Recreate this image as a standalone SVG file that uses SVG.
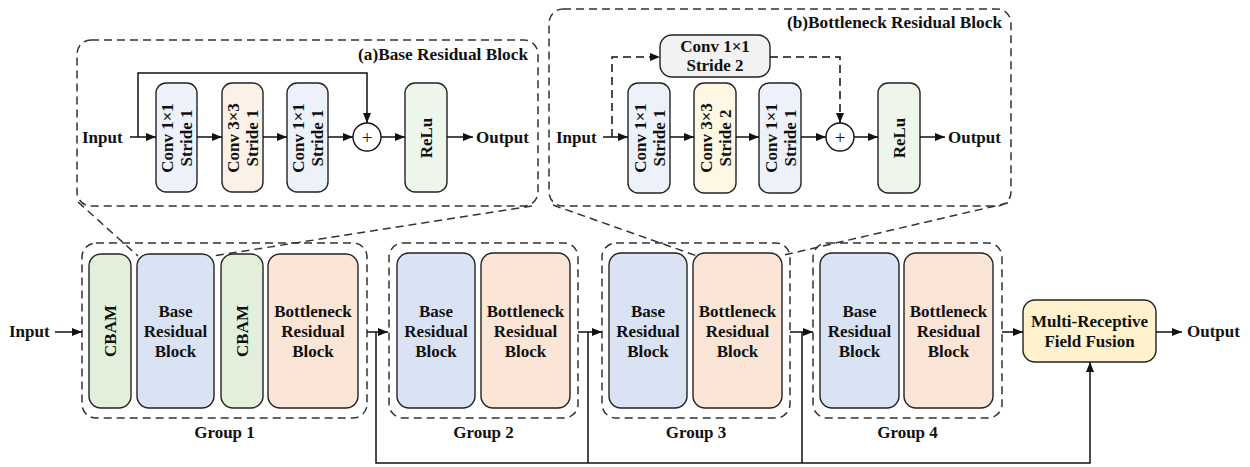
<svg xmlns="http://www.w3.org/2000/svg" width="1250" height="467" viewBox="0 0 1250 467">
<style>
text{font-family:"Liberation Serif","Times New Roman",serif;font-weight:bold;font-size:17px;fill:#111}
.c{text-anchor:middle;dominant-baseline:central}
.t{font-size:17.3px;text-anchor:end}
.box{stroke:#222;stroke-width:1.4}
.dash{fill:none;stroke:#333;stroke-width:1.5;stroke-dasharray:8 5}
.ln{fill:none;stroke:#111;stroke-width:1.5}
.plus{font-size:19px;font-weight:normal}
.blue{fill:#dae3f3}.peach{fill:#fbe5d6}.green{fill:#e2efda}.yel{fill:#fff2cc}
.lblue{fill:#edf1fa}.lpeach{fill:#fcf1e7}.lyel{fill:#fdf7e4}.lgreen{fill:#eef5ea}.gray{fill:#f2f2f2}
</style>
<defs>
<marker id="ar" markerUnits="userSpaceOnUse" markerWidth="11" markerHeight="9" refX="10" refY="4" orient="auto">
<path d="M0,0 L10,4 L0,8 z" fill="#111"/>
</marker>
</defs>

<!-- (a) Base Residual Block detail -->
<g id="detail-a">
<rect class="dash" x="77" y="40" width="461" height="166" rx="14"/>
<text class="t" x="528" y="60">(a)Base Residual Block</text>
<text x="82" y="143">Input</text>
<text x="476" y="143">Output</text>
</g>
<g id="a-conv1">
<rect class="box lblue" x="156" y="83" width="41" height="109" rx="10"/>
<text class="c" transform="translate(176.5,138) rotate(-90)"><tspan x="0" y="-9.5">Conv 1×1</tspan><tspan x="0" y="9.5">Stride 1</tspan></text>
</g>
<g id="a-conv2">
<rect class="box lpeach" x="222" y="83" width="41" height="109" rx="10"/>
<text class="c" transform="translate(242.5,138) rotate(-90)"><tspan x="0" y="-9.5">Conv 3×3</tspan><tspan x="0" y="9.5">Stride 1</tspan></text>
</g>
<g id="a-conv3">
<rect class="box lblue" x="287" y="83" width="41" height="109" rx="10"/>
<text class="c" transform="translate(307.5,138) rotate(-90)"><tspan x="0" y="-9.5">Conv 1×1</tspan><tspan x="0" y="9.5">Stride 1</tspan></text>
</g>
<g id="a-add">
<circle cx="367" cy="137" r="14" fill="#fff" stroke="#111" stroke-width="1.4"/>
<text class="c plus" x="367" y="137">+</text>
</g>
<g id="a-relu">
<rect class="box lgreen" x="405" y="83" width="42" height="109" rx="10"/>
<text class="c" transform="translate(426,138) rotate(-90)">ReLu</text>
</g>

<!-- (b) Bottleneck Residual Block detail -->
<g id="detail-b">
<rect class="dash" x="549" y="9" width="462" height="197" rx="14"/>
<text class="t" x="1002" y="28">(b)Bottleneck Residual Block</text>
<text x="556" y="143">Input</text>
<text x="948" y="143">Output</text>
</g>
<g id="b-short">
<rect class="box gray" x="660" y="35" width="110" height="42" rx="12"/>
<text class="c" x="715" y="46.5">Conv 1×1</text>
<text class="c" x="715" y="65.5">Stride 2</text>
</g>
<g id="b-conv1">
<rect class="box lblue" x="628" y="83" width="42" height="110" rx="10"/>
<text class="c" transform="translate(649,138) rotate(-90)"><tspan x="0" y="-9.5">Conv 1×1</tspan><tspan x="0" y="9.5">Stride 1</tspan></text>
</g>
<g id="b-conv2">
<rect class="box lyel" x="694" y="83" width="42" height="110" rx="10"/>
<text class="c" transform="translate(715,138) rotate(-90)"><tspan x="0" y="-9.5">Conv 3×3</tspan><tspan x="0" y="9.5">Stride 2</tspan></text>
</g>
<g id="b-conv3">
<rect class="box lblue" x="759" y="83" width="42" height="110" rx="10"/>
<text class="c" transform="translate(780,138) rotate(-90)"><tspan x="0" y="-9.5">Conv 1×1</tspan><tspan x="0" y="9.5">Stride 1</tspan></text>
</g>
<g id="b-add">
<circle cx="840" cy="137" r="14" fill="#fff" stroke="#111" stroke-width="1.4"/>
<text class="c plus" x="840" y="137">+</text>
</g>
<g id="b-relu">
<rect class="box lgreen" x="878" y="83" width="42" height="110" rx="10"/>
<text class="c" transform="translate(899,138) rotate(-90)">ReLu</text>
</g>

<!-- main pipeline -->
<g id="input">
<text x="9" y="337">Input</text>
</g>
<g id="group1">
<rect class="dash" x="82" y="243" width="285" height="175" rx="14"/>
<rect class="box green" x="89" y="254" width="42" height="154" rx="12"/>
<text class="c" transform="translate(110,331) rotate(-90)">CBAM</text>
<rect class="box blue" x="137" y="254" width="77" height="154" rx="12"/>
<text class="c" x="175.5" y="311">Base</text>
<text class="c" x="175.5" y="331">Residual</text>
<text class="c" x="175.5" y="351">Block</text>
<rect class="box green" x="221" y="254" width="42" height="154" rx="12"/>
<text class="c" transform="translate(242,331) rotate(-90)">CBAM</text>
<rect class="box peach" x="268" y="254" width="90" height="154" rx="12"/>
<text class="c" x="313" y="311">Bottleneck</text>
<text class="c" x="313" y="331">Residual</text>
<text class="c" x="313" y="351">Block</text>
<text x="224.5" y="438" text-anchor="middle">Group 1</text>
</g>
<g id="group2">
<rect class="dash" x="389" y="243" width="189" height="175" rx="14"/>
<rect class="box blue" x="397" y="253" width="78" height="155" rx="12"/>
<text class="c" x="436" y="311">Base</text>
<text class="c" x="436" y="331">Residual</text>
<text class="c" x="436" y="351">Block</text>
<rect class="box peach" x="481" y="253" width="89" height="155" rx="12"/>
<text class="c" x="525.5" y="311">Bottleneck</text>
<text class="c" x="525.5" y="331">Residual</text>
<text class="c" x="525.5" y="351">Block</text>
<text x="483.5" y="438" text-anchor="middle">Group 2</text>
</g>
<g id="group3">
<rect class="dash" x="602" y="243" width="188" height="175" rx="14"/>
<rect class="box blue" x="609" y="253" width="78" height="155" rx="12"/>
<text class="c" x="648" y="311">Base</text>
<text class="c" x="648" y="331">Residual</text>
<text class="c" x="648" y="351">Block</text>
<rect class="box peach" x="693" y="253" width="89" height="155" rx="12"/>
<text class="c" x="737.5" y="311">Bottleneck</text>
<text class="c" x="737.5" y="331">Residual</text>
<text class="c" x="737.5" y="351">Block</text>
<text x="696" y="438" text-anchor="middle">Group 3</text>
</g>
<g id="group4">
<rect class="dash" x="813" y="243" width="189" height="175" rx="14"/>
<rect class="box blue" x="820" y="253" width="79" height="155" rx="12"/>
<text class="c" x="859.5" y="311">Base</text>
<text class="c" x="859.5" y="331">Residual</text>
<text class="c" x="859.5" y="351">Block</text>
<rect class="box peach" x="904" y="253" width="89" height="155" rx="12"/>
<text class="c" x="948.5" y="311">Bottleneck</text>
<text class="c" x="948.5" y="331">Residual</text>
<text class="c" x="948.5" y="351">Block</text>
<text x="907.5" y="438" text-anchor="middle">Group 4</text>
</g>
<g id="mrff">
<rect class="box yel" x="1023" y="300" width="133" height="62" rx="12"/>
<text class="c" x="1089.5" y="321.5">Multi-Receptive</text>
<text class="c" x="1089.5" y="341.5">Field Fusion</text>
</g>
<g id="output">
<text x="1187" y="337">Output</text>
</g>

<g id="connectors">
<!-- (a) -->
<path class="ln" d="M130,137 H156" marker-end="url(#ar)"/>
<path class="ln" d="M197,137 H222" marker-end="url(#ar)"/>
<path class="ln" d="M263,137 H287" marker-end="url(#ar)"/>
<path class="ln" d="M328,137 H353" marker-end="url(#ar)"/>
<path class="ln" d="M381,137 H405" marker-end="url(#ar)"/>
<path class="ln" d="M447,137 H473" marker-end="url(#ar)"/>
<path class="ln" d="M138,137 V73 H367 V123" marker-end="url(#ar)"/>
<!-- (b) -->
<path class="ln" d="M603,137 H628" marker-end="url(#ar)"/>
<path class="ln" d="M670,137 H694" marker-end="url(#ar)"/>
<path class="ln" d="M736,137 H759" marker-end="url(#ar)"/>
<path class="ln" d="M801,137 H826" marker-end="url(#ar)"/>
<path class="ln" d="M854,137 H878" marker-end="url(#ar)"/>
<path class="ln" d="M920,137 H945" marker-end="url(#ar)"/>
<path class="ln" d="M612,137 V57 H660" stroke-dasharray="8 5" marker-end="url(#ar)"/>
<path class="ln" d="M770,57 H840 V123" stroke-dasharray="8 5" marker-end="url(#ar)"/>
<!-- zoom lines -->
<path class="dash" d="M78,202 L138,256"/>
<path class="dash" d="M532,206 L212,256"/>
<path class="dash" d="M553,205 L697,256"/>
<path class="dash" d="M1008,203 L780,256"/>
<!-- main -->
<path class="ln" d="M55,332 H82" marker-end="url(#ar)"/>
<path class="ln" d="M367,332 H388" marker-end="url(#ar)"/>
<path class="ln" d="M578,332 H602" marker-end="url(#ar)"/>
<path class="ln" d="M790,332 H813" marker-end="url(#ar)"/>
<path class="ln" d="M1002,332 H1023" marker-end="url(#ar)"/>
<path class="ln" d="M1156,332 H1182" marker-end="url(#ar)"/>
<path class="ln" d="M376,332 V463 H1090 V362" marker-end="url(#ar)"/>
<path class="ln" d="M588,332 V463"/>
<path class="ln" d="M802,332 V463"/>
</g>
</svg>
